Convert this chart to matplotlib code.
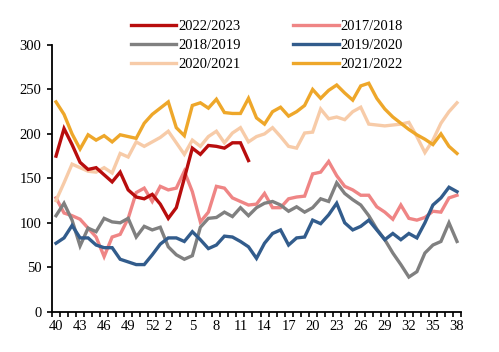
import matplotlib
matplotlib.use("Agg")
import matplotlib.pyplot as plt
from matplotlib.ticker import FixedLocator

weeks = [40, 41, 42, 43, 44, 45, 46, 47, 48, 49, 50, 51, 52,
         1, 2, 3, 4, 5, 6, 7, 8, 9, 10, 11, 12, 13, 14, 15, 16, 17, 18, 19, 20,
         21, 22, 23, 24, 25, 26, 27, 28, 29, 30, 31, 32, 33, 34, 35, 36, 37, 38]
tick_weeks = [40, 43, 46, 49, 52, 2, 5, 8, 11, 14, 17, 20, 23, 26, 29, 32, 35, 38]

s2017 = [128, 111, 108, 104, 94, 84, 62, 84, 87, 105, 134, 139, 124,
         141, 137, 139, 158, 135, 101, 112, 141, 139, 128, 124, 120, 121, 133,
         117, 117, 127, 129, 130, 155, 157, 169, 153, 141, 137, 131, 131, 118,
         112, 104, 120, 105, 103, 106, 113, 112, 128, 131]
s2018 = [108, 122, 103, 74, 94, 90, 105, 101, 100, 105, 84, 96, 92,
         95, 73, 64, 59, 63, 95, 105, 106, 112, 107, 117, 108, 117, 122,
         124, 120, 113, 118, 112, 117, 127, 124, 145, 133, 126, 120, 108, 93,
         81, 66, 53, 39, 45, 66, 75, 79, 100, 79]
s2019 = [77, 83, 97, 83, 83, 75, 72, 72, 59, 56, 53, 53, 64,
         76, 83, 83, 79, 90, 81, 71, 75, 85, 84, 79, 73, 60, 77,
         88, 92, 75, 83, 84, 103, 99, 109, 122, 100, 92, 96, 103, 92,
         81, 88, 81, 88, 83, 100, 120, 128, 140, 135]
s2020 = [125, 145, 166, 162, 158, 157, 162, 156, 178, 174, 191, 186, 191,
         196, 203, 190, 177, 193, 186, 197, 203, 190, 201, 207, 191, 197, 200,
         207, 197, 186, 184, 201, 202, 228, 217, 219, 216, 225, 230, 211, 210,
         209, 210, 211, 213, 197, 179, 193, 212, 225, 235]
s2021 = [236, 222, 200, 183, 199, 193, 198, 191, 199, 197, 195, 212, 222,
         229, 236, 207, 198, 232, 235, 229, 239, 224, 223, 223, 240, 218, 211,
         225, 230, 220, 225, 232, 250, 240, 249, 255, 246, 238, 254, 257, 240,
         228, 219, 212, 205, 199, 194, 188, 200, 186, 178]
s2022 = [175, 206, 188, 168, 160, 162, 154, 146, 157, 137, 129, 127, 132,
         121, 105, 117, 150, 184, 177, 187, 186, 184, 190, 190, 170]

series = [
    ("2017/2018", s2017, "#EF8585"),
    ("2018/2019", s2018, "#808080"),
    ("2019/2020", s2019, "#325C8C"),
    ("2020/2021", s2020, "#F7CBA8"),
    ("2021/2022", s2021, "#EEA72A"),
    ("2022/2023", s2022, "#B80D0D"),
]

plt.rcParams['font.family'] = ['Liberation Serif', 'DejaVu Serif']

fig = plt.figure(figsize=(4.99, 3.52), dpi=100)
ax = fig.add_axes([52/499, 1-311.7/352, (461-52)/499, (311.7-45)/352])

handles = {}
for name, vals, col in series:
    x = list(range(len(vals)))
    ln, = ax.plot(x, vals, color=col, lw=2.4, solid_joinstyle='miter', label=name)
    handles[name] = ln

ax.set_xlim(-0.5, len(weeks) - 0.5)
ax.set_ylim(0, 300)
ax.set_yticks(range(0, 301, 50))
tick_pos = [weeks.index(w) if w >= 40 else weeks.index(w, 13) for w in tick_weeks]
ax.set_xticks(tick_pos)
ax.set_xticklabels([str(w) for w in tick_weeks])
ax.xaxis.set_minor_locator(FixedLocator([i - 0.5 for i in range(len(weeks) + 1)]))
ax.tick_params(axis='x', which='major', length=0, pad=6, labelsize=10.5)
ax.tick_params(axis='x', which='minor', length=3.5, width=1.2, direction='out')
ax.tick_params(axis='y', which='major', length=3.5, width=1.2, direction='out', labelsize=10.5, pad=4)
for s in ['top', 'right']:
    ax.spines[s].set_visible(False)
for s in ['left', 'bottom']:
    ax.spines[s].set_linewidth(1.3)
    ax.spines[s].set_color('black')

order = ["2022/2023", "2018/2019", "2020/2021", "2017/2018", "2019/2020", "2021/2022"]
fig.legend([handles[n] for n in order], order, loc='upper left',
           bbox_to_anchor=(131/499, 1-20/352), ncol=2, frameon=False,
           fontsize=10.5, handlelength=3.1, handletextpad=0.15,
           columnspacing=3.6, labelspacing=0.39, borderpad=0, borderaxespad=0)

fig.savefig("out.png", dpi=100)
